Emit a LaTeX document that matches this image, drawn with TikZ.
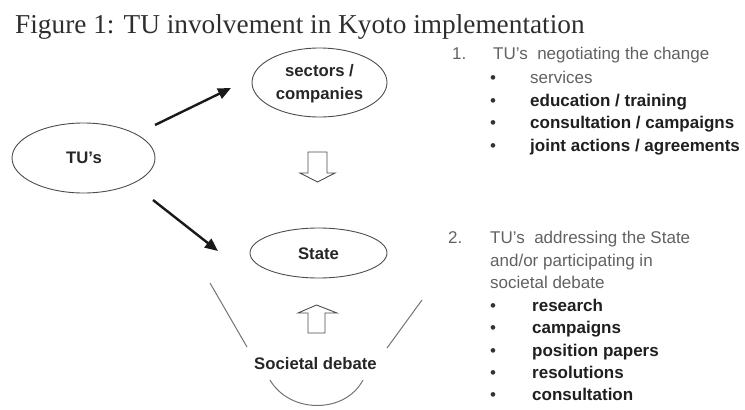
\documentclass[tikz,border=0pt]{standalone}
\usepackage{fontspec}
\setmainfont{Liberation Serif}
\setsansfont{Liberation Sans}
\usetikzlibrary{arrows.meta,shapes.geometric}
\begin{document}
\begin{tikzpicture}[x=1pt,y=-1pt,
  ell/.style={draw=black!70, line width=0.9pt, ellipse, inner sep=0pt},
  lbl/.style={font=\sffamily\bfseries\fontsize{16.7}{23}\selectfont, text=black!85, align=center},
  reg/.style={anchor=base west, inner sep=0pt, font=\sffamily\fontsize{17}{20}\selectfont, text=black!62},
  bld/.style={anchor=base west, inner sep=0pt, font=\sffamily\bfseries\fontsize{17}{20}\selectfont, text=black!88},
  bul/.style={anchor=base, inner sep=0pt, font=\sffamily\fontsize{17}{20}\selectfont, text=black!80},
  blackarrow/.style={draw=black!90, line width=2.4pt, -{Triangle[length=13pt,width=11pt]}},
  hollow/.style={draw=black!70, line width=0.9pt, fill=white, line join=miter},
  vline/.style={draw=black!55, line width=1pt}
]
\useasboundingbox (0,0) rectangle (745,410);

% title
\node[anchor=base west, inner sep=0pt, font=\fontsize{27.3}{32}\selectfont, text=black!82] (title) at (15,33) {Figure 1: TU involvement in Kyoto implementation};

% ellipses
\node[ell, minimum width=143pt, minimum height=70pt] (tu) at (83.5,158) {};
\node[lbl] (tutxt) at (84,158) {TU's};
\node[ell, minimum width=135pt, minimum height=69pt] (sec) at (319.5,82.5) {};
\node[lbl] (sectxt) at (319.5,83.5) {sectors /\\companies};
\node[ell, minimum width=137pt, minimum height=50pt] (state) at (318.5,253) {};
\node[lbl] (statetxt) at (318.5,254) {State};

% black arrows
\coordinate (a1s) at (155,125);
\coordinate (a1e) at (231,88);
\coordinate (a2s) at (153,200);
\coordinate (a2e) at (218,251);
\draw[blackarrow] (a1s) -- (a1e);
\draw[blackarrow] (a2s) -- (a2e);

% hollow block arrows
\draw[hollow] (308,152) -- (327,152) -- (327,173) -- (335,173) -- (317.5,182) -- (300,173) -- (308,173) -- cycle;
\draw[hollow] (308,333) -- (325,333) -- (325,313) -- (337,313) -- (316.5,305) -- (298,313) -- (308,313) -- cycle;

% societal debate
\node[lbl] (soc) at (315.5,364) {Societal debate};
\draw[vline] (210,283) -- (247,347);
\draw[vline] (270,380) .. controls (290,414) and (345,414) .. (363,380);
\draw[vline] (387,348) -- (422,300);

% column 1
\node[reg] (n1) at (452,59) {1.};
\node[reg] (h1) at (493,59) {TU's\ \ negotiating the change};
\node[bul] (b11) at (493,83) {\textbullet};
\node[reg] (i11) at (530,83) {services};
\node[bul] (b12) at (493,106) {\textbullet};
\node[bld] (i12) at (530,106) {education / training};
\node[bul] (b13) at (493,128.5) {\textbullet};
\node[bld] (i13) at (530,128.5) {consultation / campaigns};
\node[bul] (b14) at (493,151) {\textbullet};
\node[bld] (i14) at (530,151) {joint actions / agreements};

% column 2
\node[reg] (n2) at (448,243) {2.};
\node[reg] (h2a) at (490,243) {TU's\ \ addressing the State};
\node[reg] (h2b) at (490,266) {and/or participating in};
\node[reg] (h2c) at (490,288) {societal debate};
\node[bul] (b21) at (493,311) {\textbullet};
\node[bld] (i21) at (532,311) {research};
\node[bul] (b22) at (493,333) {\textbullet};
\node[bld] (i22) at (532,333) {campaigns};
\node[bul] (b23) at (493,356) {\textbullet};
\node[bld] (i23) at (532,356) {position papers};
\node[bul] (b24) at (493,378) {\textbullet};
\node[bld] (i24) at (532,378) {resolutions};
\node[bul] (b25) at (493,400) {\textbullet};
\node[bld] (i25) at (532,400) {consultation};
\end{tikzpicture}
\end{document}
